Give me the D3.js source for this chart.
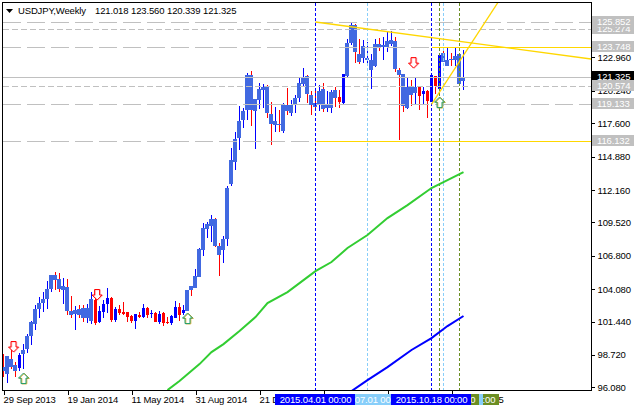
<!DOCTYPE html>
<html>
<head>
<meta charset="utf-8">
<title>USDJPY,Weekly</title>
<script src="https://d3js.org/d3.v7.min.js"></script>
<style>
	html, body { margin:0; padding:0; background:#fff; }
	svg { display:block; }
	text { font-family:"Liberation Sans", Arial, sans-serif; font-size:9.5px; letter-spacing:-0.15px; fill:#000; }
	.tick line, .frame { stroke:#000; shape-rendering:crispEdges; }
	.tag text { fill:#fff; }
</style>
</head>
<body>
<svg id="chart" width="634" height="411"></svg>
<script>
// weekly bars
var opens = [97.70,97.16,98.38,97.89,97.67,98.79,99.20,100.26,101.23,102.46,102.94,103.27,104.09,105.23,104.90,104.01,
	104.25,102.29,102.05,102.46,102.54,101.72,101.48,103.19,101.40,102.21,102.86,103.35,101.56,102.46,102.21,102.21,
	101.89,101.48,101.97,101.80,102.54,102.05,102.13,101.40,102.13,101.42,101.32,101.72,102.62,102.13,102.29,104.33,
	104.17,105.06,107.27,108.98,109.22,109.79,107.59,107.27,108.16,112.64,114.44,116.39,117.86,118.68,121.53,118.59,
	119.49,120.31,120.55,118.35,117.45,117.53,116.96,119.08,118.43,119.16,119.65,120.80,121.45,119.90,119.25,119.08,
	120.39,118.84,118.84,120.31,119.73,119.25,121.45,124.14,125.60,123.24,122.91,122.75,121.94,122.26,124.05,123.81,
	123.81,124.05,124.30,121.94,121.61,118.84,120.55,120.06,120.55,119.98,120.22,119.33,121.45,120.39,123.32,122.26,
	122.83,122.75,123.24,121.018];
var highs = [98.79,98.63,99.12,98.14,98.85,99.60,100.42,101.48,102.78,103.43,103.84,104.74,105.23,105.47,105.39,104.98,
	104.90,103.52,102.70,102.78,102.78,102.86,103.84,103.43,102.70,103.19,104.17,103.43,102.62,102.78,103.03,102.21,
	101.97,102.05,102.21,102.86,102.62,102.38,102.21,102.29,102.21,101.80,101.97,103.11,102.94,102.78,104.01,104.33,
	105.72,107.43,109.47,109.55,110.12,109.87,107.84,108.40,112.48,115.58,116.88,119.00,118.84,121.69,121.85,119.57,
	120.88,120.80,120.71,119.33,118.92,118.68,119.25,120.47,119.49,119.90,121.36,122.10,121.53,120.22,120.47,120.71,
	120.88,120.22,120.31,120.55,120.31,121.61,124.46,125.77,125.68,124.46,124.38,124.22,123.24,124.46,124.54,124.62,
	125.11,125.11,124.62,122.10,121.61,121.36,121.12,121.28,120.55,120.55,120.31,121.53,121.45,123.16,123.65,123.73,
	123.32,123.73,123.24,123.56];
var lows = [96.94,96.45,97.57,96.91,97.43,97.57,98.87,99.52,100.75,101.72,102.21,102.46,103.84,104.01,103.84,102.86,
	101.97,101.72,100.75,101.72,101.40,101.32,101.23,101.15,101.32,101.72,102.13,101.40,101.40,101.97,101.97,101.40,
	101.32,100.83,101.72,101.72,101.72,101.72,101.40,101.23,101.07,101.23,101.15,101.72,101.48,101.97,102.29,103.52,
	104.17,105.06,106.78,108.24,107.92,107.51,105.15,106.21,107.59,112.48,113.79,115.42,117.21,117.86,117.37,115.50,
	118.76,118.84,118.02,115.82,116.88,116.88,116.80,118.27,118.19,118.43,119.33,120.55,119.25,118.27,118.76,118.59,
	118.51,118.51,118.43,118.92,118.84,119.16,121.36,123.97,122.51,122.42,122.51,122.42,120.39,122.18,123.48,122.75,
	123.40,123.89,121.77,116.23,118.51,118.76,119.00,119.16,118.68,119.16,118.02,119.33,119.98,120.31,122.59,122.26,
	122.26,122.26,120.63,120.339];
var closes = [97.43,98.63,97.73,97.43,98.71,99.12,100.26,101.40,102.46,102.94,103.27,104.09,105.23,104.82,104.09,104.33,
	102.29,101.97,102.38,101.97,101.72,102.54,103.27,101.32,102.29,102.86,103.35,101.56,102.46,102.13,102.09,101.80,
	101.48,102.05,101.80,102.54,101.97,102.13,101.40,102.05,101.32,101.37,101.89,102.62,101.97,102.38,104.01,104.01,
	105.15,107.35,109.06,109.39,109.79,107.59,106.86,108.16,112.32,114.60,116.31,117.78,118.59,121.53,118.68,119.57,
	120.39,120.55,118.43,117.53,117.78,117.45,119.08,118.59,119.08,119.65,120.88,121.36,119.98,119.08,118.92,120.22,
	118.76,119.08,120.14,119.65,119.33,121.61,124.14,125.60,123.40,122.59,123.89,122.91,122.75,124.05,123.81,123.97,
	124.30,124.38,122.02,121.53,119.00,120.55,119.90,120.55,119.82,120.22,119.41,121.53,120.63,123.16,122.59,122.75,
	122.75,123.08,120.80,121.325];

// bars with no royal blue overlay, only the plain thin candle
var plainBars = [4,23,24,25,26,27,28,29,30,31,32,33,34,35,36,37,38,39,40,41,42,43,44,45,84,85,104,105,106,107,108,109];

// moving averages (bar index, price)
var greenIndex = [41,44,49,52,55,59,63,66,71,76,78,82,86,91,96,101,107,111,115];
var greenValues = [95.85,96.59,97.97,98.95,99.60,100.66,101.80,102.95,103.84,105.06,105.55,106.29,107.43,108.49,109.87,110.93,112.32,112.97,113.62];
var blueIndex = [87,91,96,102,107,111,115];
var blueValues = [95.77,96.67,97.73,99.12,100.09,101.07,101.89];

// axis
var priceTicks = [122.960,120.240,117.600,114.880,112.160,109.520,106.800,104.080,101.440,98.720,96.080];
var dateIndex = [0,16,32,48,64,80,96,112];
var dateLabels = ["29 Sep 2013","19 Jan 2014","11 May 2014","31 Aug 2014","21 Dec 2014","12 Apr 2015","2 Aug 2015","22 Nov 2015"];

// horizontal levels: long dashes, short dashes
var longLevels = [125.852,123.748,119.133,116.132];
var shortLevels = [125.274,120.574];
var askLevel = 121.325;
var tagLevels = [125.274,125.852,123.748,120.574,119.133,116.132];

// vertical markers
var vIndex = [114,110,109,91,78,107];
var vColors = ["#6b8e23","#87cefa","#6b8e23","#87cefa","#0000ff","#0000ff"];
var vLabels = ["2016.01.01 00:00","2015.11.01 00:00","2015.10.25 00:00","2015.07.01 00:00","2015.04.01 00:00","2015.10.18 00:00"];

// arrows (bar index, price at the top of the arrow)
var sellIndex = [2.5,23.4,102.5];
var sellPrices = [99.85,104.09,122.99];
var buyIndex = [5,46,109];
var buyPrices = [97.24,102.13,119.73];

// trend lines (bar index, price)
var trendIndex = [[78,147],[107,124]];
var trendPrices = [[125.852,122.83],[119.133,127.64]];

var title = "USDJPY,Weekly";
var titleValues = ["121.018","123.560","120.339","121.325"];

var left = 3, right = 591, top_ = 3, bottom = 390;

var x = d3.scaleLinear().domain([0,1]).range([3.5,7.5]);
var y = d3.scaleLinear().domain([96.08,125.852]).range([387.3,22]);
var py = function(v) { return Math.round(y(v) - 0.5) + 0.5; };

var svg = d3.select("#chart");

svg.append("defs").append("clipPath").attr("id","plot")
	.append("rect").attr("x",left).attr("y",top_).attr("width",right-left).attr("height",bottom-top_);

var plot = svg.append("g").attr("clip-path","url(#plot)");

// wicks
var bars = d3.range(opens.length);
plot.append("g").selectAll("line").data(bars).enter().append("line")
	.attr("x1",function(i) {return x(i);})
	.attr("x2",function(i) {return x(i);})
	.attr("y1",function(i) {return y(highs[i]);})
	.attr("y2",function(i) {return y(lows[i]);})
	.attr("stroke",function(i) {return closes[i] >= opens[i] ? "#0000ff" : "#ff0000";})
	.attr("shape-rendering","crispEdges");

// bodies
plot.append("g").selectAll("rect").data(bars).enter().append("rect")
	.attr("x",function(i) {return x(i) - (plainBars.indexOf(i) >= 0 ? 1.5 : 2.5);})
	.attr("width",function(i) {return plainBars.indexOf(i) >= 0 ? 3 : 4;})
	.attr("y",function(i) {return y(Math.max(opens[i],closes[i]));})
	.attr("height",function(i) {return Math.max(1,Math.abs(y(opens[i])-y(closes[i])));})
	.attr("fill",function(i) {
		if (plainBars.indexOf(i) < 0) {return "#4169e1";}
		return closes[i] >= opens[i] ? "#0000ff" : "#ff0000";
	})
	.attr("shape-rendering","crispEdges");

// horizontal levels
function hline(v, x1, x2, color, dash) {
	plot.append("line").attr("x1",x1).attr("x2",x2).attr("y1",py(v)).attr("y2",py(v))
		.attr("stroke",color).attr("stroke-dasharray",dash).attr("shape-rendering","crispEdges");
}
hline(askLevel,left,right,"#c0c0c0",null);
hline(longLevels[0],left,right,"#c0c0c0","17.5 6.5");
hline(longLevels[1],left,x(107),"#c0c0c0","17.5 6.5");
hline(longLevels[2],left,right,"#c0c0c0","17.5 6.5");
hline(longLevels[3],left,x(78),"#c0c0c0","17.5 6.5");
shortLevels.forEach(function(v) {hline(v,left,right,"#c0c0c0","6 3");});
hline(longLevels[1],x(107),right,"#ffd700",null);
hline(longLevels[3],x(78),right,"#ffd700",null);

// vertical markers
plot.append("g").selectAll("line").data(vIndex).enter().append("line")
	.attr("x1",function(d) {return x(d);})
	.attr("x2",function(d) {return x(d);})
	.attr("y1",top_).attr("y2",bottom)
	.attr("stroke",function(d,i) {return vColors[i];})
	.attr("stroke-dasharray","3 2")
	.attr("shape-rendering","crispEdges");

// trend lines
trendIndex.forEach(function(t,k) {
	plot.append("line")
		.attr("x1",x(t[0])).attr("x2",x(t[1]))
		.attr("y1",y(trendPrices[k][0])).attr("y2",y(trendPrices[k][1]))
		.attr("stroke","#ffd700").attr("stroke-width",1.3);
});

// moving averages
var maLine = d3.line().x(function(d) {return x(d[0]);}).y(function(d) {return y(d[1]);});
plot.append("path").datum(d3.zip(greenIndex,greenValues)).attr("d",maLine)
	.attr("fill","none").attr("stroke","#32cd32").attr("stroke-width",2);
plot.append("path").datum(d3.zip(blueIndex,blueValues)).attr("d",maLine)
	.attr("fill","none").attr("stroke","#0000ff").attr("stroke-width",2);

// arrows
var downArrow = "M-2.5,0.5H2.5V6H5L0,11L-5,6H-2.5Z";
var upArrow = "M0,0L5,5H2.5V10.5H-2.5V5H-5Z";
function arrows(ids, prices, shape, under, over) {
	ids.forEach(function(d,k) {
		var g = plot.append("g").attr("transform","translate("+x(d)+","+y(prices[k])+")");
		g.append("path").attr("d",shape).attr("fill","#fff").attr("stroke",under)
			.attr("transform","translate(0.8,0.3)");
		g.append("path").attr("d",shape).attr("fill","none").attr("stroke",over);
	});
}
arrows(sellIndex,sellPrices,downArrow,"#ffb6c1","#ff0000");
arrows(buyIndex,buyPrices,upArrow,"#daa520","#1e9e6e");

// frame
svg.append("rect").attr("class","frame").attr("x",2.5).attr("y",2.5)
	.attr("width",right-2).attr("height",bottom-2).attr("fill","none");

// price axis
var yAxis = d3.axisRight(y).tickValues(priceTicks).tickFormat(d3.format(".3f")).tickSize(3).tickPadding(3);
var yg = svg.append("g").attr("transform","translate("+(right+0.5)+",0)").call(yAxis);
yg.select(".domain").remove();

// date axis
var xAxis = d3.axisBottom(x).tickValues(dateIndex)
	.tickFormat(function(d,i) {return dateLabels[i];}).tickSize(4).tickPadding(2);
var xg = svg.append("g").attr("transform","translate(0,"+(bottom+0.5)+")").call(xAxis);
xg.select(".domain").remove();
xg.selectAll("text").attr("text-anchor","start").attr("x",-0.5);

// price tags
function priceTag(v, color) {
	var g = svg.append("g").attr("class","tag");
	g.append("rect").attr("x",right+1).attr("y",py(v)-6.5).attr("width",43).attr("height",11)
		.attr("fill",color).attr("shape-rendering","crispEdges");
	g.append("text").attr("x",597).attr("y",py(v)+2.8).text(d3.format(".3f")(v));
}
priceTag(askLevel,"#000000");
tagLevels.forEach(function(v) {priceTag(v,"#c0c0c0");});

// date tags
vIndex.forEach(function(d,k) {
	var g = svg.append("g").attr("class","tag");
	g.append("rect").attr("x",x(d)-40.5).attr("y",bottom+4).attr("width",80).attr("height",11)
		.attr("fill",vColors[k]).attr("shape-rendering","crispEdges");
	g.append("text").attr("x",x(d)).attr("y",bottom+12.6).attr("text-anchor","middle").text(vLabels[k]);
});

// title
svg.append("path").attr("d",d3.line()([[6,9],[13,9],[9.5,13]])).attr("fill","#000");
svg.append("text").attr("x",18).attr("y",14).text(title);
titleValues.forEach(function(t,k) {
	svg.append("text").attr("x",95+36*k).attr("y",14).text(t);
});
</script>
</body>
</html>
